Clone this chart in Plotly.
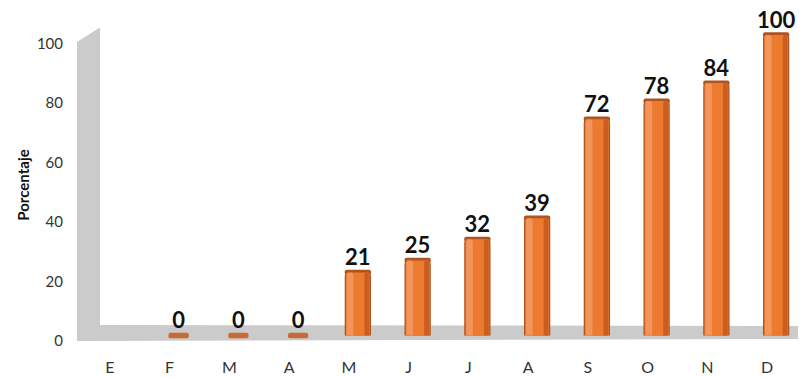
import plotly.graph_objects as go

# ---- data ----
months = ["E", "F", "M", "A", "M", "J", "J", "A", "S", "O", "N", "D"]
values = [None, 0, 0, 0, 21, 25, 32, 39, 72, 78, 84, 100]
y_ticks = [0, 20, 40, 60, 80, 100]
y_title = "Porcentaje"

idx = list(range(len(months)))

# the page places the figure 8px in from the top-left corner of the window
OFF = 8
W, H = 806 - OFF, 377 - OFF
L, R, T, B = 80 - OFF, 9, 14 - OFF, 21
pw, ph = W - L - R, H - T - B


def px(x):  # window pixel -> paper x
    return (x - OFF - L) / pw


def py(y):  # window pixel -> paper y
    return (H - B - (y - OFF)) / ph


FONT = "Lato, 'Open Sans', sans-serif"

fig = go.Figure()

# invisible trace to anchor the labelled axes
fig.add_trace(go.Scatter(x=idx, y=[None] * len(idx), mode="markers",
                         showlegend=False, hoverinfo="skip", xaxis="x", yaxis="y"))

# cylinder cap / zero disk
fig.add_trace(go.Bar(
    x=idx,
    base=[(v - 0.9) if v is not None else None for v in values],
    y=[1.8 if v is not None else None for v in values],
    width=[0.34 if v == 0 else 0.44 for v in values],
    marker=dict(color=["#c76a36" if v == 0 else "#ad5420" for v in values],
                cornerradius=3, line=dict(width=0)),
    xaxis="x2", yaxis="y2", showlegend=False, hoverinfo="skip"))

# outline
fig.add_trace(go.Bar(x=idx, y=values, width=0.44,
                     marker=dict(color="#ad5420", cornerradius=6, line=dict(width=0)),
                     xaxis="x2", yaxis="y2", showlegend=False, hoverinfo="skip"))
# body
fig.add_trace(go.Bar(x=idx, y=values, width=0.40,
                     marker=dict(color="#ec7b30", cornerradius=5, line=dict(width=0)),
                     xaxis="x2", yaxis="y2", showlegend=False, hoverinfo="skip"))
# left highlight
fig.add_trace(go.Bar(x=idx, y=values, width=0.11, offset=-0.185,
                     marker=dict(color="#f3955a", cornerradius=4, line=dict(width=0)),
                     xaxis="x2", yaxis="y2", showlegend=False, hoverinfo="skip"))
# right shade
fig.add_trace(go.Bar(x=idx, y=values, width=0.08, offset=0.11,
                     marker=dict(color="#c95e20", cornerradius=3, line=dict(width=0)),
                     xaxis="x2", yaxis="y2", showlegend=False, hoverinfo="skip"))

# value labels
fig.add_trace(go.Scatter(
    x=idx, y=values, mode="markers+text",
    marker=dict(size=1, color="rgba(0,0,0,0)"),
    text=[str(v) if v is not None else "" for v in values],
    textposition="top center",
    textfont=dict(family=FONT, size=22, color="#111111", weight="bold"),
    xaxis="x2", yaxis="y2", showlegend=False, hoverinfo="skip", cliponaxis=False))

# grey wall + floor (decor), given in window pixels
pts = [(77, 42), (99, 28), (100, 28), (100, 325), (806, 326), (799, 339), (77, 341)]
path = "M " + " L ".join(f"{px(a):.5f},{py(b):.5f}" for a, b in pts) + " Z"
shapes = [dict(type="path", xref="paper", yref="paper", path=path,
               fillcolor="#cbcbcb", line=dict(width=0), layer="below")]

shift = 9 / (pw / 12)
zero_y = 335.5 - OFF          # bar base in figure pixels
unit = 3.005                  # pixels per percent for bars
y2_lo = -(H - B - zero_y) / unit
y2_hi = (zero_y - T) / unit

fig.update_layout(
    width=W, height=H,
    margin=dict(l=L, r=R, t=T, b=B, autoexpand=False),
    paper_bgcolor="white", plot_bgcolor="rgba(0,0,0,0)",
    barmode="overlay",
    shapes=shapes,
    font=dict(family=FONT, color="#333333"),
    xaxis=dict(range=[-0.5, 11.5], tickvals=idx, ticktext=months,
               showgrid=False, zeroline=False, showline=False, automargin=False,
               tickfont=dict(family=FONT, size=16, color="#333333"),
               ticklabelstandoff=0, fixedrange=True),
    yaxis=dict(range=[-5, 110], tickvals=y_ticks,
               showgrid=False, zeroline=False, showline=False, automargin=False,
               tickfont=dict(family=FONT, size=15, color="#333333"),
               ticklabelstandoff=16,
               title=dict(text=y_title, standoff=3,
                          font=dict(family=FONT, size=15, color="#111111", weight="bold")),
               fixedrange=True),
    xaxis2=dict(range=[-0.5 - shift, 11.5 - shift], overlaying="x", visible=False,
                fixedrange=True, automargin=False),
    yaxis2=dict(range=[y2_lo, y2_hi], overlaying="y", visible=False, fixedrange=True,
                automargin=False),
)

fig.write_html("out.html")
